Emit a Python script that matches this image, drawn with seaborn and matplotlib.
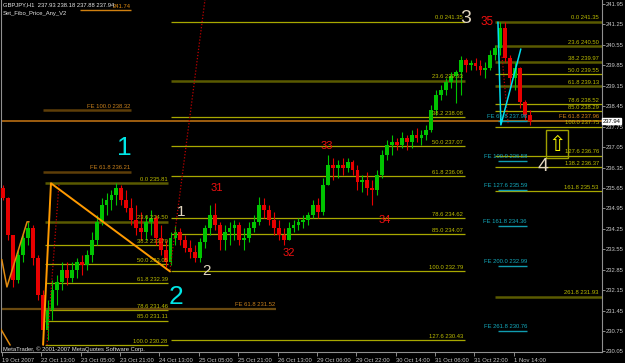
import matplotlib
matplotlib.use("Agg")
import matplotlib.pyplot as plt
import matplotlib.transforms as mtransforms
from matplotlib.patches import Rectangle
import numpy as np
import pandas as pd
import seaborn as sns

# ---------------- data (2-hour candles) ----------------
first_open = 235.65
highs = [235.75, 235.35, 234.04, 233.53, 234.04, 234.49, 234.38, 233.36, 232.16, 231.81,
         232.50, 232.67, 233.11, 233.11, 233.11, 233.25, 233.36, 233.53, 234.14, 234.73,
         235.31, 235.48, 235.58, 235.81, 235.75, 235.58, 235.31, 235.07, 234.83, 234.73,
         234.90, 234.73, 234.38, 233.87, 234.14, 234.35, 234.28, 234.04, 233.87, 233.70,
         233.94, 234.38, 235.07, 235.14, 234.49, 234.38, 234.49, 234.55, 234.49, 234.28,
         234.49, 234.73, 235.34, 235.31, 235.07, 234.83, 234.55, 234.28, 234.49, 234.55,
         234.62, 234.73, 234.83, 235.24, 235.31, 235.99, 236.78, 236.68, 236.61, 236.68,
         236.68, 236.61, 236.44, 236.10, 236.20, 235.92, 236.27, 236.95, 237.29, 237.46,
         237.36, 237.57, 237.46, 237.64, 237.70, 237.64, 237.81, 238.49, 239.01, 239.18,
         239.42, 239.62, 239.69, 240.17, 240.10, 240.03, 240.10, 240.03, 239.96, 240.38,
         240.55, 241.35, 241.33, 240.20, 239.96, 239.80, 238.66, 238.32]
lows = [235.24, 233.87, 232.26, 232.40, 233.11, 233.70, 233.01, 231.81, 230.28, 230.44,
        231.13, 231.64, 232.16, 232.33, 232.43, 232.57, 232.67, 232.84, 233.11, 233.70,
        234.38, 234.73, 234.90, 235.07, 235.07, 234.83, 234.38, 234.04, 233.87, 233.87,
        234.04, 233.70, 233.36, 232.94, 233.01, 233.70, 233.70, 233.46, 233.25, 233.11,
        233.11, 233.59, 234.04, 234.21, 233.53, 233.53, 233.70, 233.87, 233.70, 233.53,
        233.80, 234.14, 234.38, 234.62, 234.38, 234.04, 233.87, 233.70, 233.87, 234.14,
        234.21, 234.28, 234.38, 234.62, 234.62, 234.73, 235.75, 235.92, 235.99, 236.10,
        236.20, 236.10, 235.58, 235.51, 235.41, 235.07, 235.41, 235.99, 236.61, 236.78,
        236.95, 237.02, 236.95, 237.02, 237.23, 237.12, 237.29, 237.57, 238.15, 238.66,
        238.83, 239.08, 238.56, 238.83, 239.62, 239.69, 239.69, 239.52, 239.42, 239.69,
        240.03, 240.20, 239.96, 239.18, 239.01, 238.39, 237.98, 237.81]
closes = [235.31, 234.04, 232.50, 233.36, 233.94, 234.28, 233.25, 231.98, 230.79, 231.47,
          232.16, 232.43, 232.84, 232.57, 232.84, 233.11, 233.01, 233.36, 233.87, 234.49,
          235.07, 235.24, 235.41, 235.65, 235.24, 234.97, 234.55, 234.28, 234.14, 234.49,
          234.62, 233.94, 233.53, 233.11, 233.94, 234.14, 233.87, 233.59, 233.46, 233.25,
          233.80, 234.28, 234.73, 234.38, 233.87, 234.14, 234.28, 234.38, 233.87, 233.94,
          234.28, 234.49, 235.07, 234.90, 234.55, 234.28, 234.04, 233.87, 234.28, 234.38,
          234.49, 234.55, 234.73, 235.07, 234.83, 235.75, 236.44, 236.34, 236.44, 236.34,
          236.54, 236.27, 235.85, 235.92, 235.65, 235.58, 236.10, 236.78, 237.12, 237.23,
          237.12, 237.36, 237.23, 237.46, 237.36, 237.46, 237.64, 238.32, 238.83, 239.01,
          239.28, 239.49, 239.62, 240.03, 239.86, 239.93, 239.83, 239.69, 239.76, 240.20,
          240.44, 241.13, 240.10, 239.42, 239.76, 238.59, 238.15, 237.94]

date_labels = ["19 Oct 2007", "22 Oct 13:00", "23 Oct 05:00", "23 Oct 21:00", "24 Oct 13:00",
               "25 Oct 05:00", "25 Oct 21:00", "26 Oct 13:00", "29 Oct 06:00", "29 Oct 22:00",
               "30 Oct 14:00", "31 Oct 06:00", "31 Oct 22:00", "1 Nov 14:00"]
price_ticks = [241.95, 241.25, 240.55, 239.85, 239.15, 238.45, 237.75, 237.05, 236.35,
               235.65, 234.95, 234.25, 233.55, 232.85, 232.15, 231.45, 230.75, 230.05]
last_price = 237.94

fibA_levels = ["0.0", "23.6", "38.2", "50.0", "61.8", "78.6", "85.0", "100.0"]
fibA_prices = [235.81, 234.50, 233.70, 233.05, 232.39, 231.46, 231.11, 230.28]
fibB_levels = ["0.0", "23.6", "38.2", "50.0", "61.8", "78.6", "85.0", "100.0", "127.6"]
fibB_prices = [241.35, 239.33, 238.08, 237.07, 236.06, 234.62, 234.07, 232.79, 230.43]
fibC_levels = ["0.0", "23.6", "38.2", "50.0", "61.8", "78.6", "85.0", "100.0",
               "127.6", "138.2", "161.8", "261.8"]
fibC_prices = [241.35, 240.50, 239.97, 239.55, 239.13, 238.52, 238.29, 237.75,
               236.76, 236.37, 235.53, 231.93]
feCyan_levels = ["61.8", "100.0", "127.6", "161.8", "200.0", "261.8"]
feCyan_prices = [237.96, 236.58, 235.59, 234.36, 232.99, 230.76]
feOrange_levels = ["100.0", "61.8"]
feOrange_prices = [238.32, 236.21]
feOrange_top = 241.74
feLow_level, feLow_price = "61.8", 231.52
feWide_level, feWide_price = "61.8", 237.96

# ---------------- style ----------------
sns.set_theme(style="dark", rc={"axes.facecolor": "black", "figure.facecolor": "black",
                                "axes.grid": False})
plt.rcParams['font.family'] = ['Liberation Sans', 'DejaVu Sans']

FS = 4.2
fig = plt.figure(figsize=(6.25, 3.63), dpi=100, facecolor='black')
ax = fig.add_axes([1 / 625, 11 / 363, 601 / 625, 352 / 363])
ax.set_facecolor('black')
ax.set_xlim(-0.41, 243.9)
ax.set_ylim(230.032, 242.087)
X_END = 243.9
X_LAB = 242.6

# ---------------- candles ----------------
n = len(closes)
opens = [first_open] + closes[:-1]
df = pd.DataFrame({"bar": np.arange(n) * 2 + 0.5, "open": opens, "high": highs,
                   "low": lows, "close": closes})
up = df["close"] >= df["open"]
col = np.where(up, '#00c400', '#e80000')
ax.vlines(df["bar"], df["low"], df["high"], colors=col, lw=0.8, zorder=3)
body = (df["close"] - df["open"]).abs().clip(lower=0.025)
ax.bar(df["bar"], body, bottom=np.minimum(df["open"], df["close"]), width=1.55,
       color=col, lw=0, zorder=3)

BRIGHT = '#a8a800'
DARK = '#5a5a00'
LAB = '#bcbc00'


def fib_set(levels, prices, x0, x1, xlab, dark):
    for i, (lv, p) in enumerate(zip(levels, prices)):
        if i in dark:
            ax.hlines(p, x0, x1, colors=DARK, lw=1.8, zorder=2)
        else:
            ax.hlines(p, x0, x1, colors=BRIGHT, lw=0.9, zorder=2)
        ax.text(xlab, p + 0.04, f"{lv} {p:.2f}", ha='right', va='bottom',
                fontsize=FS, color=LAB, zorder=6)


fib_set(fibA_levels, fibA_prices, 17.5, 67.5, 67.3, {0, 1})
fib_set(fibB_levels, fibB_prices, 68.7, 188.2, 187.4, {1})
fib_set(fibC_levels, fibC_prices, 200.4, X_END, X_LAB, {0, 1, 2, 4, 11})

# orange FE levels (left)
for lv, p in zip(feOrange_levels, feOrange_prices):
    ax.hlines(p, 16.7, 52.4, colors='#5e3e08', lw=1.8, zorder=2)
    ax.text(52.2, p + 0.05, f"FE {lv} {p:.2f}", ha='right', va='bottom',
            fontsize=FS, color='#c8801c', zorder=6)
ax.hlines(feOrange_top, 31.7, 52.4, colors='#d08010', lw=1.0, zorder=2)
ax.hlines(feLow_price, -0.5, 111.4, colors='#6a4a10', lw=1.6, zorder=2)
ax.text(111.2, feLow_price + 0.05, f"FE {feLow_level} {feLow_price:.2f}", ha='right',
        va='bottom', fontsize=FS, color='#c8801c', zorder=6)
ax.hlines(feWide_price, -0.5, X_END, colors='#c87814', lw=1.1, zorder=2)
ax.text(X_LAB, feWide_price + 0.05, f"FE {feWide_level} {feWide_price:.2f}", ha='right',
        va='bottom', fontsize=FS, color='#d88418', zorder=7,
        bbox=dict(facecolor='black', edgecolor='none', pad=0.2))

# cyan FE levels (right)
for lv, p in zip(feCyan_levels, feCyan_prices):
    ax.hlines(p, 201.6, 213.4, colors='#109cb0', lw=1.0, zorder=4)
    ax.text(213.4, p + 0.05, f"FE {lv} {p:.2f}", ha='right', va='bottom',
            fontsize=FS, color='#14aabd', zorder=6)

# anchor lines drawn with seaborn
sns.lineplot(x=[16.7, 19.9, 68.3], y=[230.28, 235.81, 232.79], sort=False,
             estimator=None, color='#ff9a00', lw=1.4, ax=ax, zorder=5)
sns.lineplot(x=[-0.1, 2.0, 10.2, 11.0], y=[233.20, 232.26, 234.49, 234.49], sort=False,
             estimator=None, color='#e08a10', lw=1.1, ax=ax, zorder=5)
sns.lineplot(x=[-0.5, 3.3], y=[230.82, 230.27], sort=False, estimator=None,
             color='#e08a10', lw=1.1, ax=ax, zorder=5)
sns.lineplot(x=[201.6, 202.8, 210.9], y=[241.33, 237.81, 240.41], sort=False,
             estimator=None, color='#00e0f0', lw=1.1, ax=ax, zorder=5)
for xs, ys in [([18.3, 23.2], [230.27, 235.82]), ([68.3, 82.5], [232.84, 242.09]),
               ([203.3, 205.7], [240.14, 237.87])]:
    sns.lineplot(x=xs, y=ys, sort=False, estimator=None, color='#c00000', lw=0.9,
                 ax=ax, zorder=4, linestyle=(0, (1, 1.5)))

# arrow box
ax.add_patch(Rectangle((221.3, 236.68), 8.6, 0.96, fill=False, ec='#a0a000', lw=1.0, zorder=6))
ax.text(225.6, 237.13, "\u21e7", fontsize=15, color='#f0f000', ha='center', va='center',
        family='DejaVu Sans', zorder=7)

# wave labels
CY, BG, RD = '#00e6e6', '#e2d6c0', '#f01010'
for s, x, y, c, fs in [("1", 49.6, 237.02, CY, 19), ("2", 70.7, 231.92, CY, 19),
                       ("3", 188.6, 241.47, BG, 14), ("4", 219.9, 236.37, BG, 14),
                       ("1", 72.8, 234.83, BG, 11), ("2", 83.3, 232.81, BG, 11),
                       ("35", 197.0, 241.33, RD, 8.5), ("31", 87.4, 235.65, RD, 8),
                       ("32", 116.7, 233.42, RD, 8), ("33", 132.1, 237.09, RD, 8),
                       ("34", 155.7, 234.55, RD, 8)]:
    ax.text(x, y, s, color=c, fontsize=fs, ha='center', va='center', zorder=8)

# ---------------- axes decoration ----------------
ax.set_xticks(np.arange(len(date_labels)) * 16)
ax.set_xticklabels(date_labels, ha='left', fontsize=FS, color='#c8c8c8')
ax.yaxis.tick_right()
ax.set_yticks(price_ticks)
ax.set_yticklabels([f"{p:.2f}" for p in price_ticks], fontsize=FS, color='#c8c8c8')
ax.tick_params(axis='x', length=3, width=0.6, color='#a0a0a0', pad=1, bottom=True)
ax.tick_params(axis='y', length=2, width=0.6, color='#a0a0a0', pad=0.8, right=True, left=False)
ax.set_xlabel("")
ax.set_ylabel("")
for side in ['left', 'right', 'bottom']:
    ax.spines[side].set_visible(True)
    ax.spines[side].set_color('#909090')
    ax.spines[side].set_linewidth(0.8)
ax.spines['top'].set_visible(False)

trans = mtransforms.blended_transform_factory(ax.transAxes, ax.transData)
ax.text(1.0015, last_price, f"{last_price:.2f}", transform=trans, fontsize=FS, color='black',
        ha='left', va='center', zorder=10, clip_on=False,
        bbox=dict(facecolor='white', edgecolor='white', pad=0.5))

fig.text(3 / 625, 1 - 5 / 363, "GBPJPY,H1  237.93 238.18 237.88 237.94", color='#e6e6e6',
         fontsize=FS, va='center', ha='left')
ax.text(52.4, feOrange_top + 0.03, f"{feOrange_top:.2f}", ha='right', va='bottom',
        fontsize=FS, color='#e08a10', zorder=6)
fig.text(3 / 625, 1 - 14 / 363, "Set_Fibo_Price_Any_V2", color='#e6e6e6', fontsize=FS,
         va='center', ha='left')
fig.text(3 / 625, 1 - 349 / 363, "MetaTrader, \u00a9 2001-2007 MetaQuotes Software Corp.",
         color='#e6e6e6', fontsize=FS, va='center', ha='left')

fig.savefig("out.png", dpi=100, facecolor='black')
